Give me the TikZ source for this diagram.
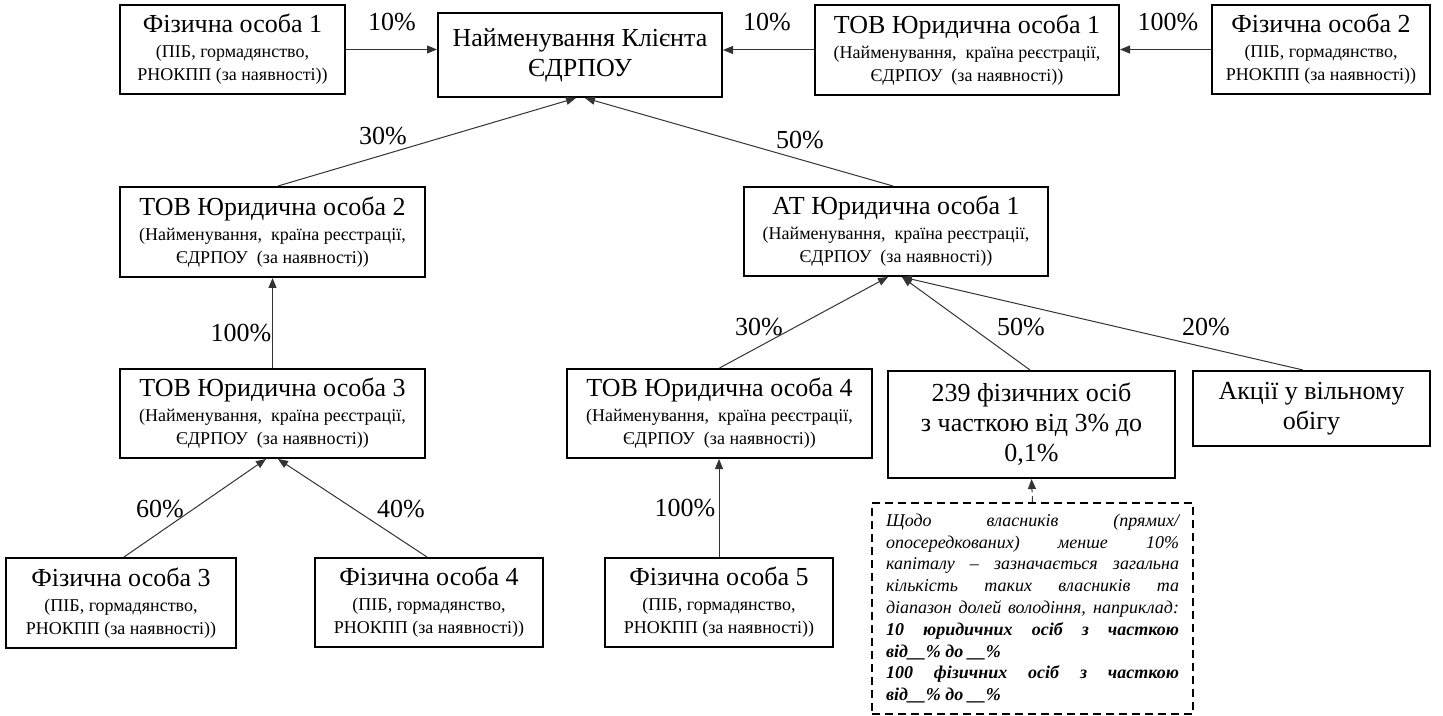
\documentclass[tikz,border=0pt]{standalone}
\usepackage{fontspec}
\setmainfont{Liberation Serif}
\usetikzlibrary{arrows.meta}

\newcommand\bigln{\fontsize{13}{15}\selectfont}
\newcommand\smln{\fontsize{9}{11.5}\selectfont}
\newcommand\gap{\_\_}

\begin{document}
\begin{tikzpicture}[x=0.5pt,y=-0.5pt,
        font=\smln,inner sep=2pt,
        box/.style={draw,line width=1pt,align=center,minimum height=44.5pt},
        pct/.style={font=\bigln,inner sep=0pt},
        link/.style={-{Triangle[length=5pt,width=4pt]},line width=0.5pt,draw=black!80}]

    \useasboundingbox (0,0) rectangle (1443,716);

    % top row
    \node[box,minimum width=142pt,minimum height=42pt,font=\bigln] (client) at (580,55)
        {Найменування Клієнта\\ЄДРПОУ};
    \node[box,minimum width=112.5pt] (f1) at (232.5,49.5)
        {{\bigln Фізична особа 1}\\[1pt](ПІБ, гормадянство,\\РНОКПП (за наявності))};
    \node[box,minimum width=152pt,minimum height=45pt] (tov1) at (967,50)
        {{\bigln ТОВ Юридична особа 1}\\[1pt](Найменування,\ \ країна реєстрації,\\ЄДРПОУ\ \ (за наявності))};
    \node[box,minimum width=109pt] (f2) at (1321,49.5)
        {{\bigln Фізична особа 2}\\[1pt](ПІБ, гормадянство,\\РНОКПП (за наявності))};

    % second row
    \node[box,minimum width=152.5pt,minimum height=45pt] (tov2) at (272.5,232)
        {{\bigln ТОВ Юридична особа 2}\\[1pt](Найменування,\ \ країна реєстрації,\\ЄДРПОУ\ \ (за наявності))};
    \node[box,minimum width=152pt] (at1) at (896,231.5)
        {{\bigln АТ Юридична особа 1}\\[1pt](Найменування,\ \ країна реєстрації,\\ЄДРПОУ\ \ (за наявності))};

    % third row
    \node[box,minimum width=152.5pt] (tov3) at (272.5,413.5)
        {{\bigln ТОВ Юридична особа 3}\\[1pt](Найменування,\ \ країна реєстрації,\\ЄДРПОУ\ \ (за наявності))};
    \node[box,minimum width=152.5pt] (tov4) at (719.5,413.5)
        {{\bigln ТОВ Юридична особа 4}\\[1pt](Найменування,\ \ країна реєстрації,\\ЄДРПОУ\ \ (за наявності))};
    \node[box,minimum width=143.5pt,minimum height=53.5pt,font=\bigln] (n239) at (1031.5,424.5)
        {239 фізичних осіб\\з часткою від 3\% до\\0,1\%};
    \node[box,minimum width=118.5pt,minimum height=37.5pt,font=\bigln] (shares) at (1311.5,408.5)
        {Акції у вільному\\обігу};

    % bottom row
    \node[box,minimum width=115pt,minimum height=45pt] (f3) at (121,603)
        {{\bigln Фізична особа 3}\\[1pt](ПІБ, гормадянство,\\РНОКПП (за наявності))};
    \node[box,minimum width=114pt] (f4) at (429,602.5)
        {{\bigln Фізична особа 4}\\[1pt](ПІБ, гормадянство,\\РНОКПП (за наявності))};
    \node[box,minimum width=114pt] (f5) at (719,602.5)
        {{\bigln Фізична особа 5}\\[1pt](ПІБ, гормадянство,\\РНОКПП (за наявності))};

    % note
    \node[draw,line width=0.75pt,dash pattern=on 4pt off 2.5pt,minimum width=160.5pt,
          minimum height=105.5pt,inner xsep=7pt,text width=146.5pt,align=justify,
          font=\fontsize{9}{10.9}\selectfont\itshape] (note) at (1032.5,608.5)
        {Щодо власників (прямих/\linebreak опосередкованих) менше 10\%\linebreak
         капіталу – зазначається загальна\linebreak кількість таких власників та\linebreak
         діапазон долей володіння, наприклад:\linebreak
         \textbf{10 юридичних осіб з часткою\linebreak від\gap\%~до \gap\%\newline
         100 фізичних осіб з часткою\linebreak від\gap\%~до \gap\%}};

    % links
    \draw[link] (f1.east) -- (f1.east -| client.west);
    \draw[link] (tov1.west) -- (tov1.west -| client.east);
    \draw[link] (f2.west) -- (f2.west -| tov1.east);
    \draw[link] ([xshift=2.75pt]tov2.north) -- ([xshift=-2pt]client.south);
    \draw[link] ([xshift=-1.5pt]at1.north) -- ([xshift=2.5pt]client.south);
    \draw[link] (tov3.north) -- (tov2.south);
    \draw[link] ([xshift=1.5pt]f3.north) -- ([xshift=-3.25pt]tov3.south);
    \draw[link] ([xshift=-1pt]f4.north) -- ([xshift=2.75pt]tov3.south);
    \draw[link] (tov4.north) -- ([xshift=-4pt]at1.south);
    \draw[link] ([xshift=-0.75pt]n239.north) -- ([xshift=3pt]at1.south);
    \draw[link] ([xshift=-4.25pt]shares.north) -- ([xshift=3pt]at1.south);
    \draw[link] (f5.north) -- (f5.north |- tov4.south);
    \draw[link,densely dashed] (note.north) -- (n239.south);

    % shares
    \node[pct] (p1) at (392,22) {10\%};
    \node[pct] (p2) at (767,22) {10\%};
    \node[pct] (p3) at (1168,22) {100\%};
    \node[pct] (p4) at (383,136) {30\%};
    \node[pct] (p5) at (800,140) {50\%};
    \node[pct] (p6) at (241,333) {100\%};
    \node[pct] (p7) at (759,327) {30\%};
    \node[pct] (p8) at (1021,327) {50\%};
    \node[pct] (p9) at (1206,327) {20\%};
    \node[pct] (p10) at (160,509) {60\%};
    \node[pct] (p11) at (401,509) {40\%};
    \node[pct] (p12) at (685,508) {100\%};
\end{tikzpicture}
\end{document}
